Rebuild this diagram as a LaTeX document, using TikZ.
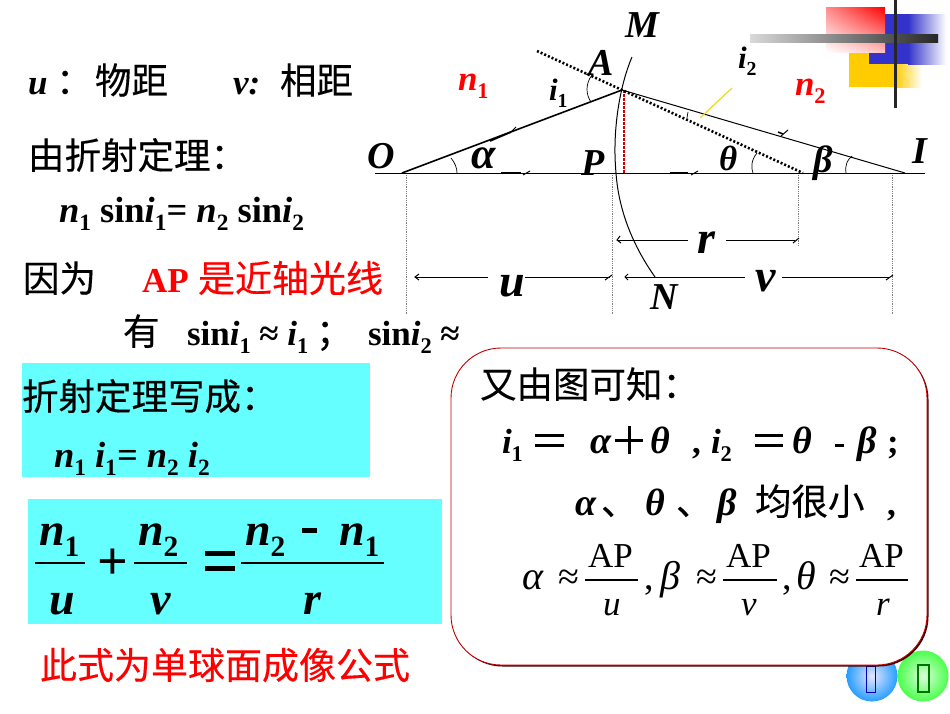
\documentclass[tikz,border=0pt]{standalone}
\usepackage{fontspec}
\usetikzlibrary{shadings}
\setmainfont{Liberation Serif}
\newfontfamily\cjk[FakeBold=0.3]{Noto Sans CJK SC}
\newcommand\dn[1]{\raisebox{-.24em}{\scalebox{.64}{\upshape #1}}}
\newcommand\fs[1]{\fontsize{#1}{#1}\selectfont}
\definecolor{cyanbox}{HTML}{66FFFF}
\definecolor{redtxt}{HTML}{FF0000}
\definecolor{decoyellow}{HTML}{FFCC00}
\definecolor{decoblue}{HTML}{3333CC}
\tikzset{
  x=1pt,y=-1pt,
  lbl/.style={anchor=base west,inner sep=0pt,outer sep=0pt},
  bigi/.style={lbl,font=\fs{38}\bfseries\itshape},
  redi/.style={lbl,text=redtxt,font=\fs{35}\bfseries\itshape},
  mid/.style={lbl,font=\fs{35}\bfseries},
  midi/.style={lbl,font=\fs{35}\bfseries\itshape},
  greek/.style={lbl,font=\fs{38}\bfseries\itshape},
  han/.style={lbl,font=\fs{36.5}\cjk},
  hanred/.style={lbl,text=redtxt,font=\fs{37}\cjk},
  huge/.style={lbl,font=\fs{46}\bfseries\itshape},
  plain/.style={lbl,font=\fs{38}},
  plaini/.style={lbl,font=\fs{40}\itshape},
  fracnum/.style={lbl,font=\fs{35}},
  fracden/.style={lbl,font=\fs{35}\itshape},
  guide/.style={gray,line width=.8pt,densely dotted},
  thinblack/.style={black,line width=.9pt},
  tick/.style={black,line width=1pt},
  fracbar/.style={black,line width=1.3pt},
}
\begin{document}
\begin{tikzpicture}
\useasboundingbox (0,0) rectangle (950,713);
\fill[white] (0,0) rectangle (950,713);
% corner decoration
\fill[decoyellow] (849,52) rectangle (895,87);
\shade[left color=decoyellow,right color=white] (895,52) rectangle (922,87);
\fill[decoblue] (869,14) rectangle (908,64);
\shade[left color=decoblue,right color=white] (908,14) rectangle (946,64);
\shade[shading=bilinear interpolation,upper right=red,upper left=red!45,lower left=white,lower right=red!25] (826,7) rectangle (885,52);
\shade[left color=white!85!black,right color=black!85] (750,34) rectangle (938,42);
\draw[black!85,line width=3pt] (895.5,0) -- (895.5,108);
% cyan boxes
\fill[cyanbox] (21.5,363) rectangle (370,477);
\fill[cyanbox] (28,498.5) rectangle (442,623.5);
% buttons
\shade[inner color=blue!10!white,outer color=blue!45!cyan!85!white] (872,676) circle (25.5);
\shade[inner color=green!15!white,outer color=green!70!white] (923,676) circle (25.5);
\draw[blue!70!black,line width=1pt] (866,666) rectangle (875,692);
\draw[green!45!black,line width=1.6pt] (918,665) rectangle (929,692);
% rounded box
\fill[black!75!red,rounded corners=50pt] (452.5,349.5) rectangle (928.5,666.5);
\draw[red!75!black,fill=white,line width=.9pt,rounded corners=50pt] (451,348) rectangle (927,665);
% optics geometry
\coordinate (O) at (402,173);
\coordinate (A) at (622,90);
\coordinate (I) at (905,173);
\coordinate (C) at (803,173);
\coordinate (D) at (537,51);
\coordinate (AF) at (624,173);
\coordinate (AT) at (624,90);
\coordinate (axL) at (375,173);
\coordinate (axR) at (925,173);
\coordinate (M) at (632,57);
\coordinate (Pv) at (616,173);
\coordinate (Nv) at (655,277);
\draw[guide] (406,173) -- (406,315);
\draw[guide] (612,173) -- (612,315);
\draw[guide] (798,173) -- (798,246);
\draw[guide] (892,173) -- (892,315);
\draw[black,line width=1pt] (axL) -- (axR);
\draw[black,line width=1pt] (M) .. controls (620,85) and (612,130) .. (Pv) .. controls (619,215) and (636,250) .. (Nv);
\draw[red!80!black,line width=1.2pt,dash pattern=on 2.5pt off 1.5pt] (AT) -- (AF);
\draw[black,line width=1.6pt] (O) -- (A);
\draw[black,line width=1pt] (A) -- (I);
\draw[black,line width=2.6pt,dash pattern=on 2pt off 2pt] (D) -- (C);
\draw[yellow!90!black,line width=1.2pt] (700,118) -- (732,88);
% flow ticks
\draw[tick,line width=1.7pt] (490,141) -- (511,132);
\draw[tick] (511,132) -- (516,127);
\draw[tick,line width=1.7pt] (501,172.5) -- (521,172.5);
\draw[tick] (523,175) -- (530,171);
\draw[tick,line width=1.7pt] (670,172.5) -- (688,172.5);
\draw[tick] (691,175) -- (698,171);
\draw[tick,line width=1.5pt] (778,132) -- (783,134);
\draw[tick] (781,136) -- (788,130);
% angle arcs
\draw[thinblack,line width=.7pt] (451,158) .. controls (455,163) and (457,168) .. (457,173);
\draw[thinblack,line width=.7pt] (753,173) .. controls (751,168) and (751,160) .. (757,153);
\draw[thinblack,line width=.7pt] (846,173) .. controls (845,165) and (847,160) .. (852,156);
\draw[thinblack,line width=.7pt] (592,75) .. controls (585,84) and (586,95) .. (591,102);
\draw[thinblack,line width=.7pt] (688,112) -- (687,118);
% dimension lines
\draw[thinblack] (617,240) -- (688,240);
\draw[thinblack] (726,240) -- (795,240);
\draw[tick] (620,236) -- (617,240) -- (621,243);
\draw[tick] (793,243) -- (799,238);
\draw[thinblack] (415,277) -- (488,277);
\draw[thinblack] (525,277) -- (610,277);
\draw[tick] (419,274) -- (415,277) -- (419,280);
\draw[tick] (605,280) -- (612,275);
\draw[thinblack] (625,277) -- (745,277);
\draw[thinblack] (782,277) -- (890,277);
\draw[tick] (628,274) -- (625,277) -- (628,280);
\draw[tick] (886,280) -- (893,275);
% diagram labels
\node[bigi] (lM) at (625,37) {M};
\node[bigi] (lA) at (588,75) {A};
\node[midi,font=\fs{31}\bfseries\itshape] (li1) at (549,100) {i\dn{1}};
\node[midi,font=\fs{31}\bfseries\itshape] (li2) at (738,68) {i\dn{2}};
\node[redi] (ln1) at (458,90) {n\dn{1}};
\node[redi] (ln2) at (795,95) {n\dn{2}};
\node[bigi] (lO) at (367,168) {O};
\node[lbl,font=\fs{44}\bfseries\itshape] (lal) at (471,168) {α};
\node[bigi] (lP) at (581,175) {P};
\node[midi] (lth) at (719,170) {θ};
\node[greek] (lbe) at (813,172) {β};
\node[bigi] (lI) at (912,163) {I};
\node[huge] (lr) at (697,253) {r};
\node[huge] (lu) at (499,296) {u};
\node[huge] (lv) at (755,291) {v};
\node[bigi] (lN) at (650,309) {N};
% left column
\node[midi] (t1a) at (28,94) {u};
\node[han] (t1b) at (56,94) {：};
\node[han] (t1c) at (95,94) {物距};
\node[midi] (t1d) at (233,94) {v:};
\node[han] (t1e) at (280,94) {相距};
\node[han] (t2) at (28,169) {由折射定理：};
\node[mid,font=\fs{36.5}\bfseries] (t3) at (59,222) {\textit{n}\dn{1} sin\textit{i}\dn{1}= \textit{n}\dn{2} sin\textit{i}\dn{2}};
\node[han] (t4) at (23,292) {因为};
\node[mid,text=redtxt] (t5) at (142,292) {AP};
\node[hanred] (t6) at (198,292) {是近轴光线};
\node[han] (t7) at (123,345) {有};
\node[mid] (t8) at (187,345) {sin\textit{i}\dn{1} ≈ \textit{i}\dn{1}};
\node[han] (t8b) at (316,345) {；};
\node[mid] (t8c) at (368,345) {sin\textit{i}\dn{2} ≈};
\node[han] (t9) at (22,410) {折射定理写成：};
\node[midi,font=\fs{36.5}\bfseries\itshape] (t10) at (54,467) {n\dn{1} i\dn{1}= n\dn{2} i\dn{2}};
% big formula
\node[huge] (f1) at (39,545) {n\dn{1}};
\draw[fracbar] (35,563) -- (85,563);
\node[huge] (f2) at (49,614) {u};
\node[lbl,font=\fs{54}\bfseries] (fp) at (97,579) {+};
\node[huge] (f3) at (138,545) {n\dn{2}};
\draw[fracbar] (134,563) -- (187,563);
\node[huge] (f4) at (150,614) {v};
\fill[black] (205,551) rectangle (235,556);
\fill[black] (205,566) rectangle (235,571);
\node[huge] (f5) at (245,545) {n\dn{2}};
\fill[black] (302,527.5) rectangle (317,532.5);
\node[huge] (f6) at (339,545) {n\dn{1}};
\draw[fracbar] (241,563) -- (384,563);
\node[huge] (f7) at (303,614) {r};
\node[hanred] (f8) at (40,679) {此式为单球面成像公式};
% right box
\node[han] (b1) at (480,398) {又由图可知：};
\node[midi] (b2a) at (502,453) {i\dn{1}};
\fill[black] (535,433.5) rectangle (564,436.5);
\fill[black] (535,443.5) rectangle (564,446.5);
\node[greek] (b2b) at (590,453) {α};
\fill[black] (615,438.5) rectangle (643,441.5);
\fill[black] (627.5,426) rectangle (630.5,454);
\node[greek] (b2c) at (650,453) {θ};
\node[mid] (b2d) at (692,453) {,};
\node[midi] (b2e) at (711,453) {i\dn{2}};
\fill[black] (755,433.5) rectangle (783,436.5);
\fill[black] (755,443.5) rectangle (783,446.5);
\node[greek] (b2f) at (792,453) {θ};
\fill[black] (835,443.5) rectangle (844,447);
\node[greek] (b2g) at (857,453) {β};
\node[mid] (b2h) at (887,453) {;};
\node[greek] (b3a) at (575,515) {α};
\node[han] (b3b) at (601,515) {、};
\node[greek] (b3c) at (645,515) {θ};
\node[han] (b3d) at (676,515) {、};
\node[greek] (b3e) at (717,515) {β};
\node[han] (b3f) at (755,515) {均很小};
\node[mid] (b3g) at (887,515) {,};
\node[plaini] (q1) at (522,589) {α};
\node[plain] (q2) at (558,589) {≈};
\draw[thinblack,line width=1.1pt] (585,580) -- (638,580);
\node[fracnum] (q3) at (588,567) {AP};
\node[fracden] (q4) at (603,615) {u};
\node[plain] (q5) at (644,589) {,};
\node[plaini] (q6) at (660,589) {β};
\node[plain] (q7) at (696,589) {≈};
\draw[thinblack,line width=1.1pt] (723,580) -- (777,580);
\node[fracnum] (q8) at (726,567) {AP};
\node[fracden] (q9) at (741,615) {v};
\node[plain] (q10) at (782,589) {,};
\node[plaini] (q11) at (796,589) {θ};
\node[plain] (q12) at (829,589) {≈};
\draw[thinblack,line width=1.1pt] (856,580) -- (908,580);
\node[fracnum] (q13) at (859,567) {AP};
\node[fracden] (q14) at (876,615) {r};
\end{tikzpicture}
\end{document}
